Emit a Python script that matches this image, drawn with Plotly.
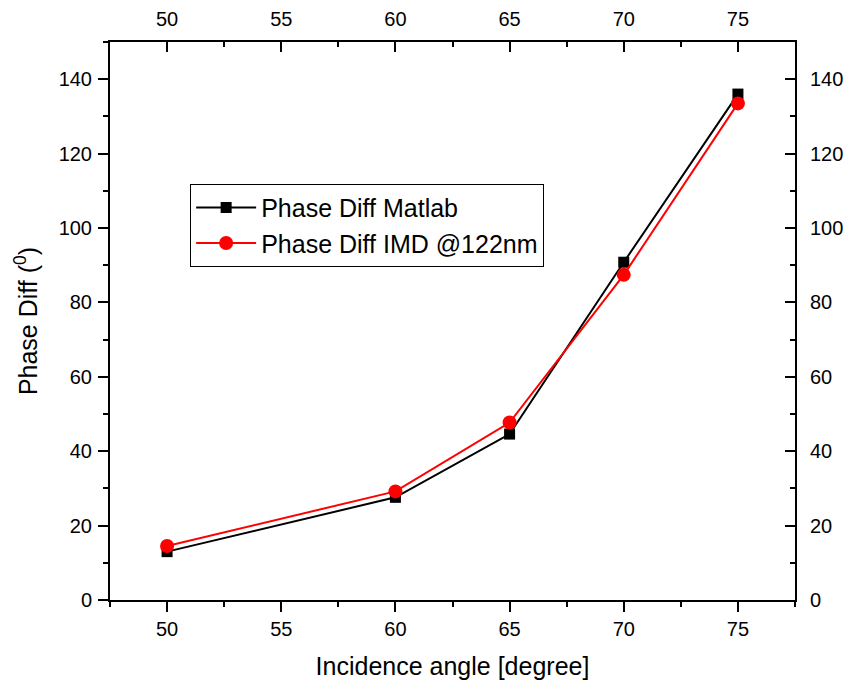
import plotly.graph_objects as go

angles = [50, 60, 65, 70, 75]
matlab = [13.0, 27.6, 44.6, 90.8, 136.0]
imd = [14.5, 29.2, 47.7, 87.4, 133.5]

x_range = [47.5, 77.5]
y_range = [0, 150]
x_ticks = [50, 55, 60, 65, 70, 75]
y_ticks = [0, 20, 40, 60, 80, 100, 120, 140]

FONT = "Liberation Sans, Arial, sans-serif"

fig = go.Figure()
fig.add_trace(go.Scatter(
    x=angles, y=matlab, mode="lines+markers", name="Phase Diff Matlab",
    line=dict(color="black", width=2),
    marker=dict(symbol="square", size=11, color="black"),
))
fig.add_trace(go.Scatter(
    x=angles, y=imd, mode="lines+markers", name="Phase Diff IMD @122nm",
    line=dict(color="#ff0000", width=2),
    marker=dict(symbol="circle", size=14, color="#ff0000"),
))
# dummy trace for mirrored top/right axes
fig.add_trace(go.Scatter(x=[None], y=[None], xaxis="x2", yaxis="y2",
                         showlegend=False, hoverinfo="skip"))

def axis_style(tick_dir, dtick_minor):
    return dict(
        showgrid=False, zeroline=False, showline=True, linecolor="black", linewidth=2,
        ticks=tick_dir, ticklen=10, tickwidth=2, tickcolor="black", automargin=False,
        tickfont=dict(family=FONT, size=20, color="black"),
        minor=dict(dtick=dtick_minor, ticks=tick_dir, ticklen=5, tickwidth=2, tickcolor="black"),
    )

fig.update_layout(
    width=851, height=682,
    paper_bgcolor="white", plot_bgcolor="white",
    margin=dict(l=110, r=56, t=42, b=82),
    font=dict(family=FONT, color="black"),
    xaxis=dict(range=x_range, tickvals=x_ticks, **axis_style("outside", 2.5),
               title=dict(text="Incidence angle [degree]", font=dict(family=FONT, size=25), standoff=18)),
    yaxis=dict(range=y_range, tickvals=y_ticks, **axis_style("outside", 10),
               ticklabelstandoff=2,
               title=dict(text="Phase Diff (<sup>0</sup>)", font=dict(family=FONT, size=25), standoff=14)),
    xaxis2=dict(range=x_range, tickvals=x_ticks, overlaying="x", side="top", anchor="y2",
                ticklabelstandoff=6, **axis_style("inside", 2.5)),
    yaxis2=dict(range=y_range, tickvals=y_ticks, overlaying="y", side="right", anchor="x2",
                ticklabelstandoff=9, **axis_style("inside", 10)),
    legend=dict(x=0.117, y=0.746, xanchor="left", yanchor="top",
                bgcolor="white", bordercolor="black", borderwidth=1,
                font=dict(family=FONT, size=25, color="black"),
                tracegroupgap=0, itemwidth=60),
    showlegend=True,
)

fig.write_html("out.html", config={"displayModeBar": False},
               post_script="document.body.style.margin='0px';")
